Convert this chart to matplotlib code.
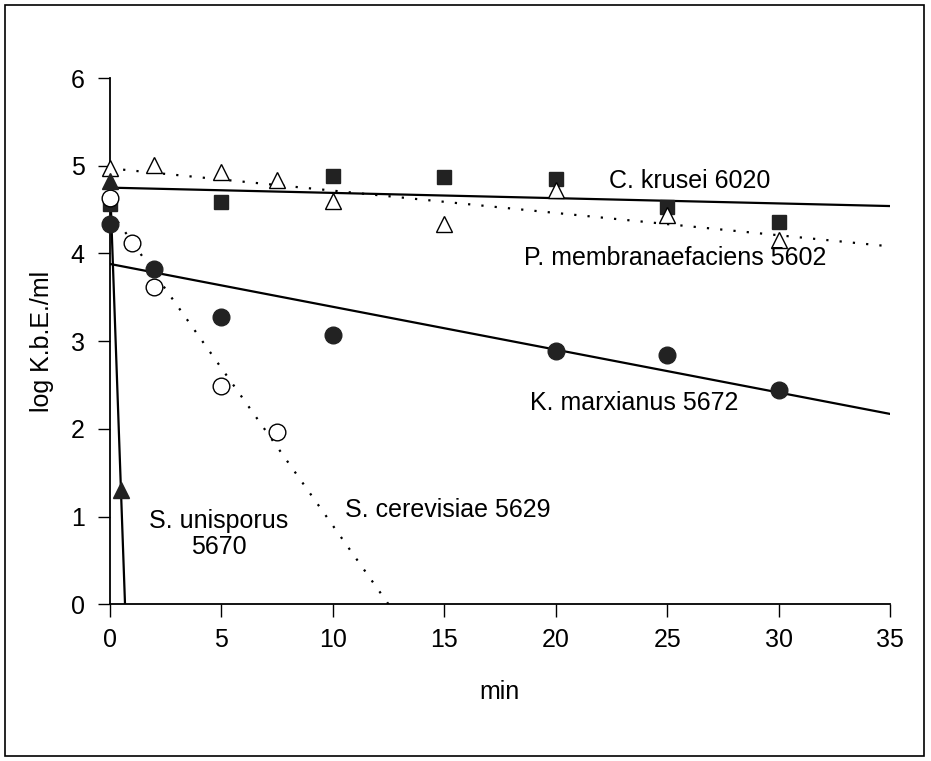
import matplotlib
matplotlib.use("Agg")
import matplotlib.pyplot as plt
from matplotlib.patches import Rectangle

plt.rcParams['font.family'] = ['Liberation Sans', 'DejaVu Sans']

# measured points (min, log K.b.E./ml)
krusei_t = [0, 5, 10, 15, 20, 25, 30]
krusei_y = [4.56, 4.59, 4.88, 4.87, 4.85, 4.53, 4.36]
krusei_fit_t = [0, 35]
krusei_fit_y = [4.75, 4.54]

membr_t = [0, 2, 5, 7.5, 10, 15, 20, 25, 30]
membr_y = [4.97, 5.01, 4.93, 4.84, 4.60, 4.34, 4.72, 4.44, 4.15]
membr_fit_t = [0, 35]
membr_fit_y = [4.97, 4.08]

marx_t = [0, 2, 5, 10, 20, 25, 30]
marx_y = [4.34, 3.82, 3.27, 3.07, 2.89, 2.84, 2.44]
marx_fit_t = [0, 35]
marx_fit_y = [3.88, 2.17]

cerev_t = [0, 1, 2, 5, 7.5]
cerev_y = [4.63, 4.12, 3.62, 2.49, 1.96]
cerev_fit_t = [0, 12.5]
cerev_fit_y = [4.49, 0]

unisp_t = [0, 0.5]
unisp_y = [4.82, 1.30]
unisp_fit_t = [0, 0.68]
unisp_fit_y = [4.85, 0]

xticks = [0, 5, 10, 15, 20, 25, 30, 35]
yticks = [0, 1, 2, 3, 4, 5, 6]

dark = '#222222'
dots = (0, (1, 5))

fig = plt.figure(figsize=(9.31, 7.61), dpi=100)
ax = fig.add_axes([0.118, 0.206, 0.838, 0.6915])

# fitted lines
ax.plot(krusei_fit_t, krusei_fit_y, color='black', lw=1.6, zorder=2)
ax.plot(membr_fit_t, membr_fit_y, color='black', lw=1.6, ls=dots, zorder=2)
ax.plot(marx_fit_t, marx_fit_y, color='black', lw=1.6, zorder=2)
ax.plot(cerev_fit_t, cerev_fit_y, color='black', lw=1.6, ls=dots, zorder=2)
ax.plot(unisp_fit_t, unisp_fit_y, color='black', lw=1.6, zorder=2)

# markers (not clipped, the t=0 ones sit on the axis)
mk = dict(ls='none', clip_on=False, zorder=3)
ax.plot(krusei_t, krusei_y, marker='s', ms=10, mfc=dark, mec=dark, **mk)
ax.plot(membr_t, membr_y, marker='^', ms=12, mfc='white', mec='black', mew=1.0, **mk)
ax.plot(marx_t, marx_y, marker='o', ms=12, mfc=dark, mec=dark, **mk)
ax.plot(cerev_t, cerev_y, marker='o', ms=12, mfc='white', mec='black', mew=1.0, **mk)
ax.plot(unisp_t, unisp_y, marker='^', ms=11, mfc=dark, mec=dark, **mk)

# labels
fs = 18
ax.text(22.4, 4.83, 'C. krusei 6020', fontsize=fs, va='center', ha='left')
ax.text(18.6, 3.95, 'P. membranaefaciens 5602', fontsize=fs, va='center', ha='left')
ax.text(18.85, 2.30, 'K. marxianus 5672', fontsize=fs, va='center', ha='left')
ax.text(10.55, 1.07, 'S. cerevisiae 5629', fontsize=fs, va='center', ha='left')
ax.text(4.87, 0.80, 'S. unisporus\n5670', fontsize=fs, va='center', ha='center',
        linespacing=1.1)

ax.set_xlim(0, 35)
ax.set_ylim(0, 6)
ax.set_xticks(xticks)
ax.set_yticks(yticks)
ax.tick_params(direction='out', length=9, width=1, labelsize=fs)
ax.tick_params(axis='x', pad=8)
ax.tick_params(axis='y', pad=9)
ax.spines['top'].set_visible(False)
ax.spines['right'].set_visible(False)
ax.spines['left'].set_linewidth(1.3)
ax.spines['bottom'].set_linewidth(1.3)

ax.set_xlabel('min', fontsize=fs, labelpad=20)
ax.set_ylabel('log K.b.E./ml', fontsize=fs, labelpad=12)

# outer frame
fig.patches.append(Rectangle((0.005, 0.007), 0.987, 0.987, transform=fig.transFigure,
                             fill=False, ec='black', lw=1.2))

fig.savefig('out.png', dpi=100)
